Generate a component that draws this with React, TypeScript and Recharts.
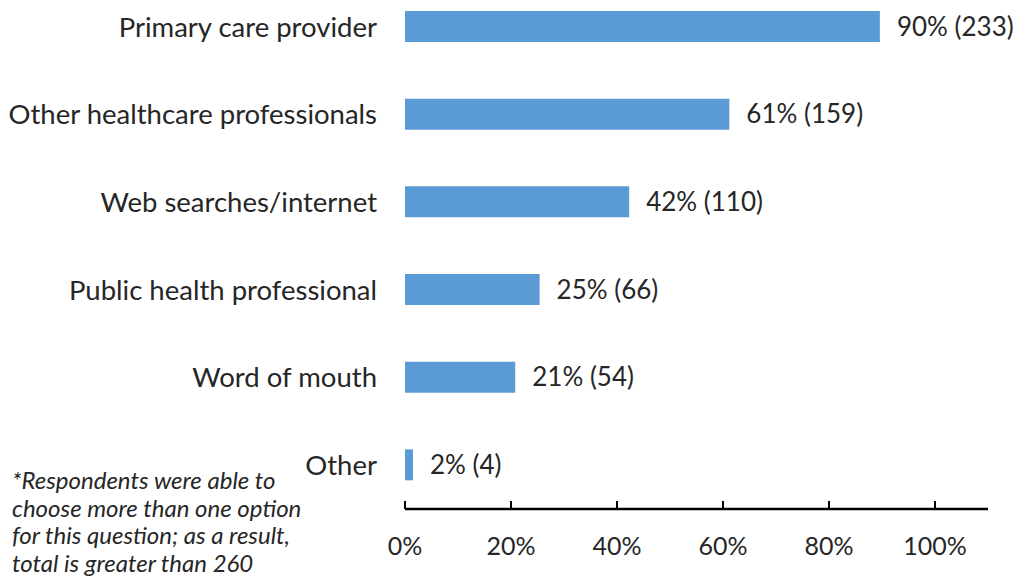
import { BarChart, Bar, XAxis, YAxis, LabelList } from "recharts"

const categories = [
  "Primary care provider",
  "Other healthcare professionals",
  "Web searches/internet",
  "Public health professional",
  "Word of mouth",
  "Other",
]
const percents = [89.6, 61.2, 42.3, 25.4, 20.8, 1.5]
const valueLabels = ["90% (233)", "61% (159)", "42% (110)", "25% (66)", "21% (54)", "2% (4)"]
const xTicks = [0, 20, 40, 60, 80, 100]

const footnoteLines = [
  "*Respondents were able to",
  "choose more than one option",
  "for this question; as a result,",
  "total is greater than 260",
]

const textColor = "#262626"

export default function App() {
  const chartData = categories.map((name, i) => ({
    name,
    pct: percents[i],
    label: valueLabels[i],
  }))

  return (
    <div
      style={{
        position: "absolute",
        left: 0,
        top: 0,
        width: 1019,
        height: 576,
        overflow: "hidden",
        background: "#fff",
        fontFamily: "Lato, sans-serif",
      }}
    >
      <div style={{ position: "absolute", left: 0, top: -17 }}>
        <BarChart
          width={1019}
          height={593}
          data={chartData}
          layout="vertical"
          margin={{ top: 0, right: 31, bottom: 0, left: 0 }}
          barSize={31}
        >
          <XAxis
            type="number"
            domain={[0, 110]}
            ticks={xTicks}
            interval={0}
            tickFormatter={(v) => `${v}%`}
            height={67}
            axisLine={{ stroke: "#000", strokeWidth: 2.5 }}
            tickLine={{ stroke: "#000", strokeWidth: 2 }}
            tickSize={-8}
            tickMargin={36}
            tick={{ fill: textColor, fontSize: 25 }}
          />
          <YAxis
            type="category"
            dataKey="name"
            width={405}
            interval={0}
            axisLine={false}
            tickLine={false}
            tickSize={0}
            tickMargin={28}
            tick={{ fill: textColor, fontSize: 27.5 }}
          />
          <Bar dataKey="pct" fill="#5B9BD5" isAnimationActive={false}>
            <LabelList dataKey="label" position="right" offset={17} fill={textColor} fontSize={26} />
          </Bar>
        </BarChart>
      </div>
      <div
        style={{
          position: "absolute",
          left: 12,
          top: 466,
          fontStyle: "italic",
          fontSize: 24,
          lineHeight: "27.7px",
          color: textColor,
          whiteSpace: "nowrap",
        }}
      >
        {footnoteLines.map((line) => (
          <div key={line}>{line}</div>
        ))}
      </div>
    </div>
  )
}
